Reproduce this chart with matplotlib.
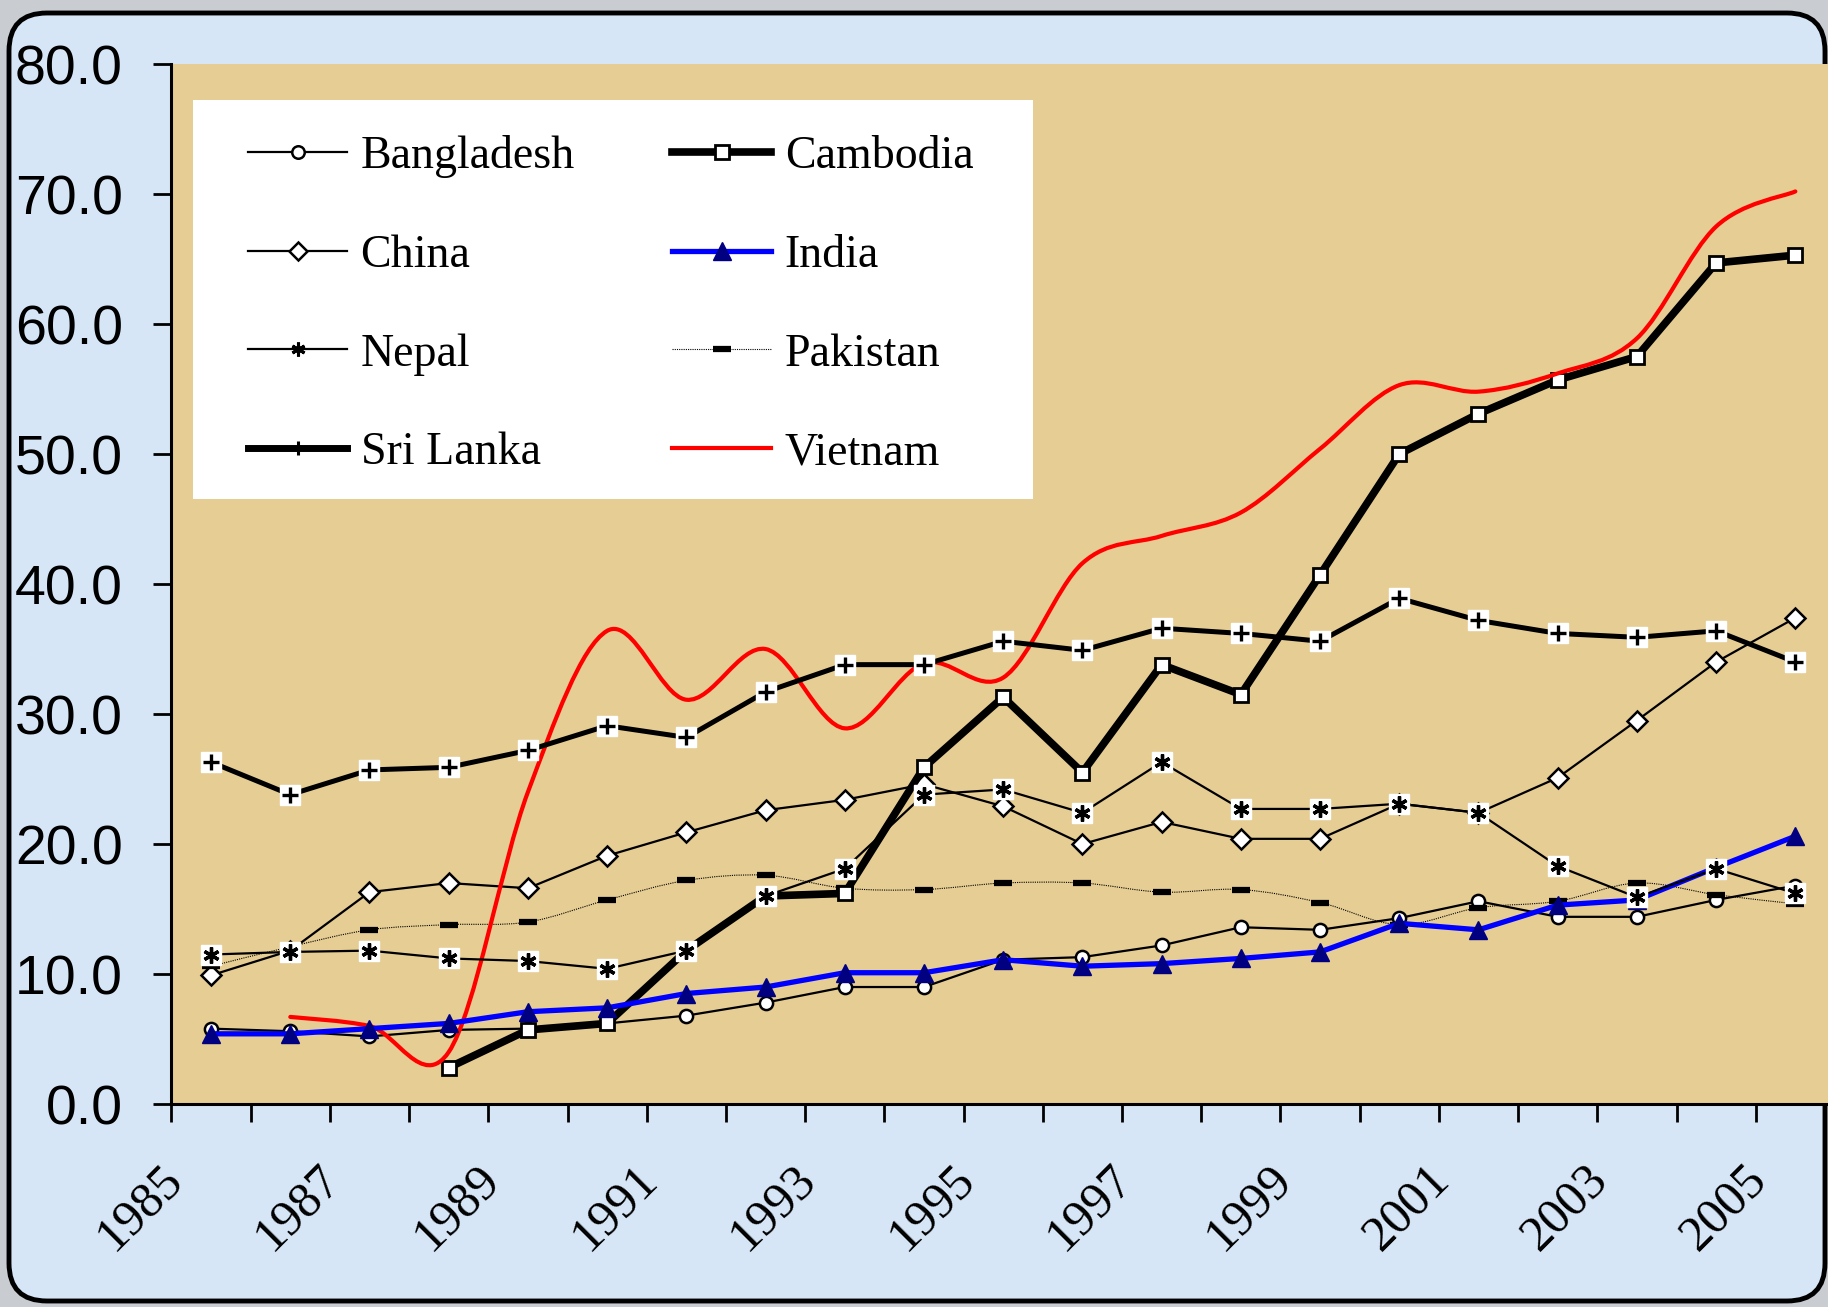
import numpy as np
import matplotlib.pyplot as plt
from matplotlib.path import Path
from matplotlib.patches import PathPatch, FancyBboxPatch, Rectangle
from matplotlib.lines import Line2D
from matplotlib import transforms

nan = np.nan

years = list(range(1985, 2006))
year_labels = [str(y) if (y - 1985) % 2 == 0 else '' for y in years]

bangladesh = [5.8, 5.6, 5.2, 5.7, 5.8, 6.2, 6.8, 7.8, 9.0, 9.0, 11.1, 11.3, 12.2, 13.6, 13.4, 14.3, 15.6, 14.4, 14.4, 15.7, 16.8]
cambodia = [nan, nan, nan, 2.8, 5.7, 6.2, 11.8, 16.0, 16.2, 25.9, 31.3, 25.5, 33.8, 31.5, 40.7, 50.0, 53.1, 55.7, 57.5, 64.7, 65.3]
china = [9.9, 11.8, 16.3, 17.0, 16.6, 19.1, 20.9, 22.6, 23.4, 24.6, 22.9, 20.0, 21.7, 20.4, 20.4, 23.1, 22.4, 25.1, 29.5, 34.0, 37.4]
india = [5.4, 5.4, 5.8, 6.2, 7.1, 7.4, 8.5, 9.0, 10.1, 10.1, 11.1, 10.6, 10.8, 11.2, 11.7, 13.9, 13.4, 15.3, 15.7, 18.2, 20.6]
nepal = [11.5, 11.7, 11.8, 11.2, 11.0, 10.4, 11.8, 16.0, 18.1, 23.8, 24.2, 22.4, 26.3, 22.7, 22.7, 23.1, 22.4, 18.3, 15.9, 18.1, 16.2]
pakistan = [10.6, 12.1, 13.4, 13.8, 14.0, 15.7, 17.2, 17.6, 16.6, 16.5, 17.0, 17.0, 16.3, 16.5, 15.5, 13.8, 15.1, 15.6, 17.0, 16.1, 15.4]
sri_lanka = [26.3, 23.8, 25.7, 25.9, 27.2, 29.1, 28.2, 31.7, 33.8, 33.8, 35.6, 34.9, 36.6, 36.2, 35.6, 38.9, 37.2, 36.2, 35.9, 36.4, 34.0]
vietnam = [nan, 6.7, 6.0, 4.0, 24.0, 36.4, 31.1, 35.0, 28.9, 33.9, 32.8, 41.6, 43.7, 45.5, 50.4, 55.3, 54.8, 56.2, 58.9, 67.5, 70.2]

serif = 'Liberation Serif'
sans = 'Liberation Sans'


def smooth_path(xs, ys):
    # bezier through the points, like a spreadsheet "smoothed line"
    pts = np.array([(x, y) for x, y in zip(xs, ys) if not np.isnan(y)], dtype=float)
    verts = [pts[0]]
    codes = [Path.MOVETO]
    n = len(pts)
    for i in range(n - 1):
        p0 = pts[i - 1] if i > 0 else pts[i]
        p1, p2 = pts[i], pts[i + 1]
        p3 = pts[i + 2] if i + 2 < n else pts[i + 1]
        verts += [p1 + (p2 - p0) / 6, p2 - (p3 - p1) / 6, p2]
        codes += [Path.CURVE4] * 3
    return Path(verts, codes)


fig = plt.figure(figsize=(18.28, 13.07), dpi=100)
fig.patch.set_facecolor('#c9ccd0')

# rounded light-blue frame behind everything
bg = fig.add_axes([0, 0, 1, 1], zorder=-5)
bg.set_xlim(0, 1828)
bg.set_ylim(1307, 0)
bg.axis('off')
bg.add_patch(FancyBboxPatch((9, 13), 1816, 1288,
                            boxstyle='round,pad=0,rounding_size=38',
                            facecolor='#d7e6f6', edgecolor='black', linewidth=3.5))

ax = fig.add_axes([0.0938, 0.1553, 0.910, 0.7957])
ax.set_facecolor('#e6cd93')
x = np.arange(len(years))

ax.plot(x, bangladesh, color='black', lw=1.6, marker='o', ms=9.5, mfc='white',
        mec='black', mew=1.8, zorder=3)
ax.plot(x, cambodia, color='black', lw=5.5, marker='s', ms=10.5, mfc='white',
        mec='black', mew=2, zorder=4)
ax.plot(x, china, color='black', lw=1.6, marker='D', ms=10, mfc='white',
        mec='black', mew=1.8, zorder=3)
ax.plot(x, india, color='#0000ff', lw=3.8, marker='^', ms=13, mfc='#000080',
        mec='#000080', zorder=5)
ax.plot(x, nepal, color='black', lw=1.6, marker='s', ms=15, mfc='white', mec='white', zorder=5)
ax.plot(x, nepal, ls='none', marker=(6, 2, 0), ms=11.5, mec='black', mew=2.4, zorder=5)

pak_path = smooth_path(x, pakistan)
ax.add_patch(PathPatch(pak_path, fill=False, edgecolor='black', lw=0.8,
                       linestyle=(0, (1, 1)), zorder=3))
ax.plot(x, pakistan, ls='none', marker='_', ms=13, mec='black', mew=4.5, zorder=3)

ax.plot(x, sri_lanka, color='black', lw=3.6, marker='s', ms=15, mfc='white', mec='white', zorder=6)
ax.plot(x, sri_lanka, ls='none', marker='+', ms=11, mec='black', mew=2.4, zorder=6)

viet_path = smooth_path(x, vietnam)
ax.add_patch(PathPatch(viet_path, fill=False, edgecolor='#ff0000', lw=3.0,
                       capstyle='round', joinstyle='round', zorder=4.5))

ax.set_xlim(-0.5, len(years) - 0.5)
ax.set_ylim(0, 80)
ax.set_yticks(np.arange(0, 81, 10))
ax.set_yticklabels(['%.1f' % v for v in np.arange(0, 81, 10)], family=sans, fontsize=40)
ax.tick_params(axis='y', direction='out', length=13, width=2, pad=22, colors='black')

ax.set_xticks(np.arange(-0.5, len(years), 1.0))
ax.set_xticklabels([])
ax.tick_params(axis='x', direction='out', length=13, width=2)

offset = transforms.ScaledTranslation(-26 / 72, -49 / 72, fig.dpi_scale_trans)
trans = transforms.blended_transform_factory(ax.transData, ax.transAxes) + offset
for i, lab in enumerate(year_labels):
    if lab:
        ax.text(i, 0, lab, transform=trans, rotation=45, rotation_mode='anchor',
                ha='right', va='center', fontfamily=serif, fontsize=36, clip_on=False)

for s in ['top', 'right']:
    ax.spines[s].set_visible(False)
for s in ['left', 'bottom']:
    ax.spines[s].set_linewidth(2.2)

# white legend panel
ax.add_patch(Rectangle((0.0127, 0.582), 0.5055, 0.383, transform=ax.transAxes,
                       facecolor='white', edgecolor='none', zorder=9))

handles = [
    Line2D([], [], color='black', lw=1.6, marker='o', ms=9, mfc='white', mec='black', mew=1.8),
    Line2D([], [], color='black', lw=1.6, marker='D', ms=9, mfc='white', mec='black', mew=1.8),
    Line2D([], [], color='black', lw=1.6, marker=(6, 2, 0), ms=10, mec='black', mew=2.2),
    Line2D([], [], color='black', lw=5, marker='+', ms=10, mec='black', mew=2.2),
    Line2D([], [], color='black', lw=5.5, marker='s', ms=10, mfc='white', mec='black', mew=2),
    Line2D([], [], color='#0000ff', lw=3.8, marker='^', ms=13, mfc='#000080', mec='#000080'),
    Line2D([], [], color='black', lw=0.8, ls=(0, (1, 1)), marker='_', ms=13, mec='black', mew=4.5),
    Line2D([], [], color='#ff0000', lw=3.0),
]
labels = ['Bangladesh', 'China', 'Nepal', 'Sri Lanka', 'Cambodia', 'India', 'Pakistan', 'Vietnam']
leg = ax.legend(handles, labels, ncol=2, loc='upper left', bbox_to_anchor=(0.0462, 0.932),
                borderaxespad=0, frameon=False, prop={'family': serif, 'size': 33},
                handlelength=2.15, handletextpad=0.3, columnspacing=2.13,
                labelspacing=1.23, borderpad=0)
leg.set_zorder(10)

plt.savefig('out.png', dpi=100)
